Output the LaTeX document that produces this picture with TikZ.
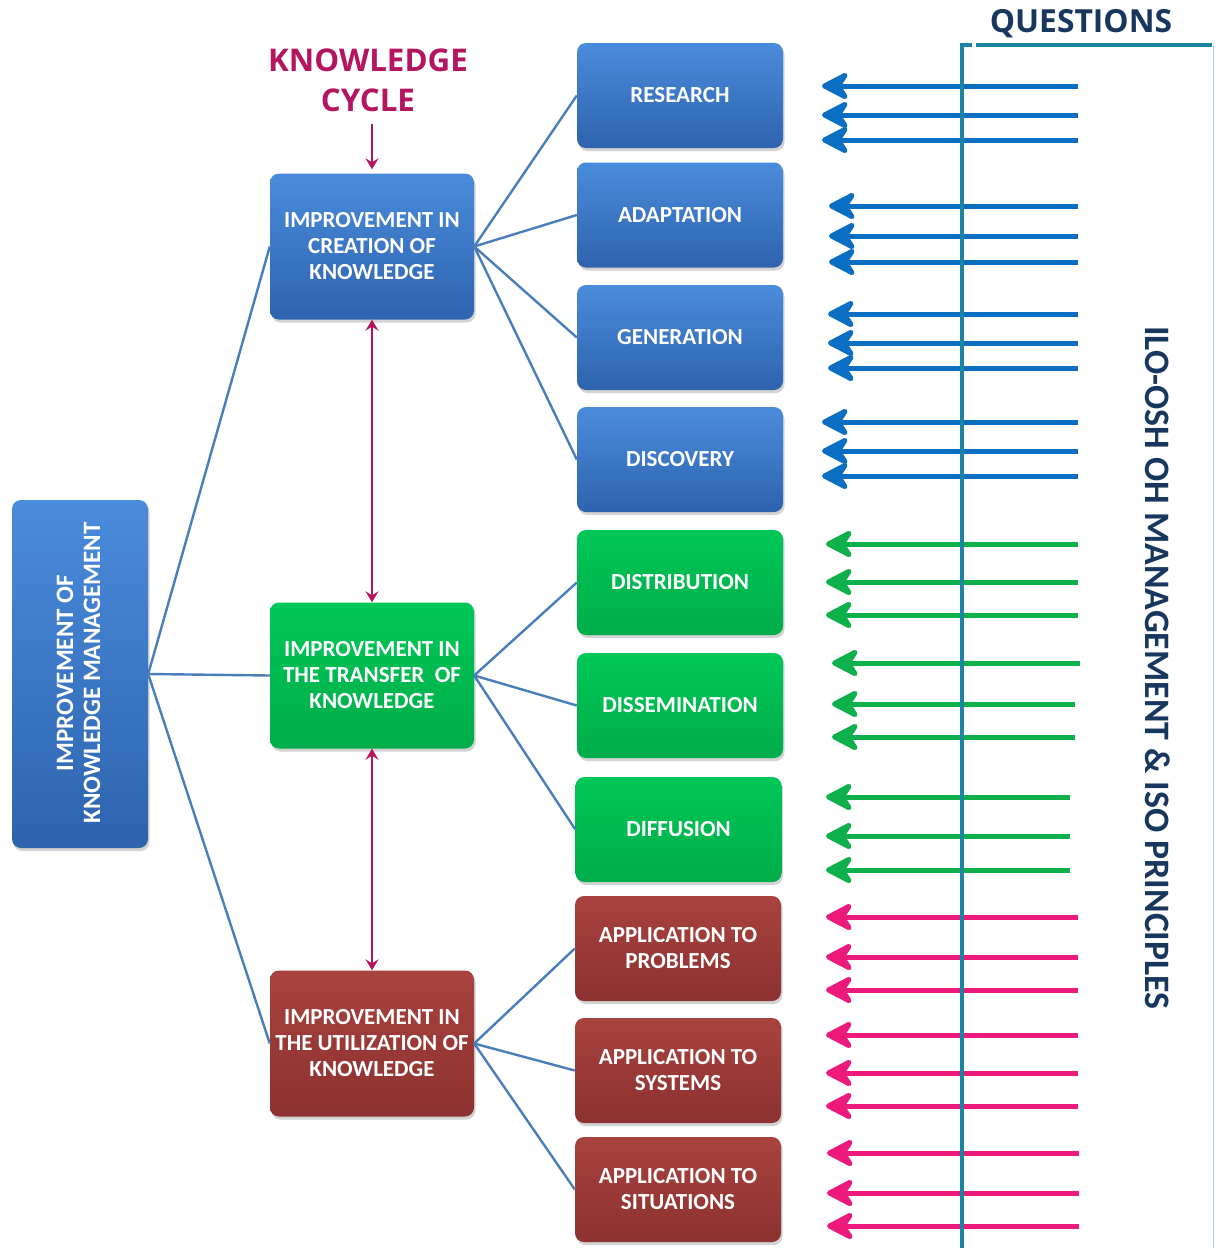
\documentclass[tikz,border=0pt]{standalone}
\usepackage{fontspec}
\setmainfont{Carlito}
\newfontfamily\headfont{Open Sans}
\usetikzlibrary{arrows.meta,shadows}

\definecolor{bluetop}{HTML}{4A8CDC}
\definecolor{bluebot}{HTML}{2E63AE}
\definecolor{greentop}{HTML}{00C757}
\definecolor{greenbot}{HTML}{00AD4A}
\definecolor{redtop}{HTML}{A8423F}
\definecolor{redbot}{HTML}{8C3230}
\definecolor{linkcol}{HTML}{4A7EBB}
\definecolor{cyclecol}{HTML}{B5145E}
\definecolor{qblue}{HTML}{0A6FC2}
\definecolor{qgreen}{HTML}{0DB04B}
\definecolor{qpink}{HTML}{EC1A7D}
\definecolor{tealcol}{HTML}{1B84A5}
\definecolor{paleteal}{HTML}{A6D6E6}
\definecolor{navytext}{HTML}{17375E}

\tikzset{
  cyclehead/.tip={Stealth[length=11pt,width=13pt,inset=4pt]},
  qhead/.tip={Stealth[length=33pt,width=34pt,inset=11pt,round]},
  box/.style={rounded corners=9pt, draw=none, inner sep=0pt, text=white,
    align=center, font=\bfseries\fontsize{23}{26}\selectfont,
    drop shadow={shadow xshift=1.5pt, shadow yshift=-3pt, opacity=0.35}},
  bluebox/.style={box, top color=bluetop, bottom color=bluebot},
  greenbox/.style={box, top color=greentop, bottom color=greenbot},
  redbox/.style={box, top color=redtop, bottom color=redbot},
  midbox/.style={minimum width=204pt, minimum height=146pt},
  leafbox/.style={minimum width=206pt, minimum height=105pt,
    font=\bfseries\fontsize{23}{26}\selectfont},
  link/.style={draw=linkcol, line width=2.4pt},
  cycle/.style={draw=cyclecol, line width=2.4pt, cyclehead-cyclehead},
  qarrow/.style={line width=5pt, -qhead},
  qline/.style={draw=tealcol, line width=4pt},
}

\begin{document}
\begin{tikzpicture}[x=1pt,y=-1pt]
\useasboundingbox (0,0) rectangle (1215,1248);

% root box with vertical caption
\node[bluebox, minimum width=136pt, minimum height=348pt] (km) at (80,674) {};
\node[rotate=90, text=white, align=center, inner sep=0pt,
      font=\bfseries\fontsize{25}{27}\selectfont] (kmtext) at (78.5,673)
  {IMPROVEMENT OF\\KNOWLEDGE MANAGEMENT};

% second level
\node[bluebox, midbox]  (cre) at (372,246.5) {IMPROVEMENT IN\\CREATION OF\\KNOWLEDGE};
\node[greenbox, midbox] (tra) at (372,675.5) {IMPROVEMENT IN\\THE TRANSFER\ \ OF\\KNOWLEDGE};
\node[redbox, midbox]   (uti) at (372,1043.5) {IMPROVEMENT IN\\THE UTILIZATION OF\\KNOWLEDGE};

% third level
\node[bluebox, leafbox]  (res) at (680,95.5)  {RESEARCH};
\node[bluebox, leafbox]  (ada) at (680,215)   {ADAPTATION};
\node[bluebox, leafbox]  (gen) at (680,337.5) {GENERATION};
\node[bluebox, leafbox]  (dis) at (680,459.5) {DISCOVERY};
\node[greenbox, leafbox] (dst) at (680,582.5) {DISTRIBUTION};
\node[greenbox, leafbox] (dsm) at (680,705.5) {DISSEMINATION};
\node[greenbox, leafbox] (dif) at (678.5,829.5) {DIFFUSION};
\node[redbox, leafbox]   (apr) at (678,948.5)  {APPLICATION TO\\PROBLEMS};
\node[redbox, leafbox]   (asy) at (678,1070.5) {APPLICATION TO\\SYSTEMS};
\node[redbox, leafbox]   (asi) at (678,1189.5) {APPLICATION TO\\SITUATIONS};

% tree connectors
\foreach \m in {cre,tra,uti} \draw[link] (km.east) -- (\m.west);
\foreach \l in {res,ada,gen,dis} \draw[link] (cre.east) -- (\l.west);
\foreach \l in {dst,dsm,dif} \draw[link] (tra.east) -- (\l.west);
\foreach \l in {apr,asy,asi} \draw[link] (uti.east) -- (\l.west);

% knowledge cycle
\node[text=cyclecol, align=center, inner sep=0pt,
      font=\headfont\bfseries\fontsize{31.3}{40}\selectfont] (kc) at (368,80)
  {KNOWLEDGE\\CYCLE};
\draw[draw=cyclecol, line width=2.4pt, -cyclehead,
      shorten <=12pt, shorten >=4pt] (kc.south -| cre.north) -- (cre.north);
\draw[cycle] (cre.south) -- (tra.north);
\draw[cycle] (tra.south) -- (uti.north);

% question arrows
\foreach \y/\xs/\xe/\c [count=\i] in {
   86/822/1078/qblue, 115/822/1078/qblue, 140/822/1078/qblue,
  206/829/1078/qblue, 236/829/1078/qblue, 262/829/1078/qblue,
  314/828/1078/qblue, 343/828/1078/qblue, 368/828/1078/qblue,
  422/822/1078/qblue, 451/822/1078/qblue, 476/822/1078/qblue,
  544/826/1078/qgreen, 582/826/1078/qgreen, 615/826/1078/qgreen,
  663/832/1080/qgreen, 704/832/1075/qgreen, 737/832/1075/qgreen,
  797/826/1070/qgreen, 836/826/1070/qgreen, 870/826/1070/qgreen,
  917/826/1078/qpink, 957/826/1078/qpink, 990/826/1078/qpink,
  1035/826/1078/qpink, 1073/826/1078/qpink, 1106/826/1078/qpink,
  1153/827/1079/qpink, 1193/827/1079/qpink, 1226/827/1079/qpink}
{
  \coordinate (qs\i) at (\xe,\y);
  \coordinate (qe\i) at (\xs,\y);
  \draw[qarrow, draw=\c, fill=\c] (qs\i) -- (qe\i);
}

% questions bracket
\coordinate (qbot) at (962,1248);
\coordinate (qtop) at (962,45);
\coordinate (qgap) at (972,45);
\coordinate (qbar) at (976,45);
\coordinate (qend) at (1212,45);
\coordinate (qrb) at (1213.5,1248);
\coordinate (qrt) at (1213.5,45);
\draw[draw=paleteal, line width=1.5pt] (qrt) -- (qrb);
\draw[qline] (qbot) -- (qtop) -- (qgap);
\draw[qline] (qbar) -- (qend);

\node[text=navytext, inner sep=0pt,
      font=\headfont\bfseries\fontsize{31.8}{36}\selectfont] (qtitle) at (1081,24) {QUESTIONS};
\node[rotate=-90, text=navytext, inner sep=0pt,
      font=\bfseries\fontsize{35.8}{40}\selectfont] (ilo) at (1158,668)
  {ILO-OSH OH MANAGEMENT \& ISO PRINCIPLES};
\end{tikzpicture}
\end{document}
